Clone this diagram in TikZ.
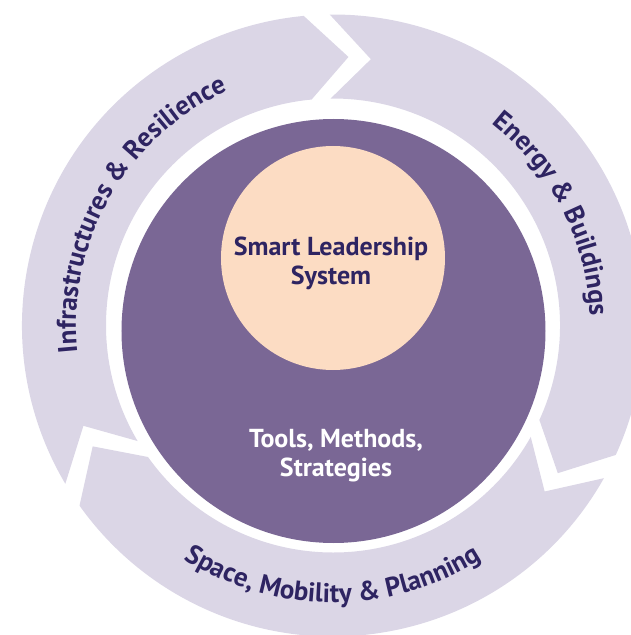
\documentclass[tikz,border=0pt]{standalone}
\usepackage{fontspec}
\setmainfont{PT Sans}
\usetikzlibrary{decorations.text}
\definecolor{ringlav}{HTML}{DBD6E6}
\definecolor{corepurple}{HTML}{7A6795}
\definecolor{peach}{HTML}{FCDCC3}
\definecolor{inktext}{HTML}{2E2462}
\newcommand{\arcfont}{\fontsize{27}{32}\selectfont\bfseries}
\begin{document}
\begin{tikzpicture}[x=1pt,y=1pt,
		arcpart/.style={fill=ringlav},
		corelabel/.style={font=\fontsize{26}{29.5}\selectfont\bfseries,align=center},
		arclabel/.style={postaction={decorate},decoration={text along path,text align=center,text color=inktext}}]
		\clip (-333,-309.5) rectangle (298,325.5);
		% three arrow pieces of the ring
		\foreach \t/\h in {210.6/95.4,90.6/-24.6,-29.4/-144.6}
		\fill[arcpart] (\t:311) arc[start angle=\t,end angle=\h,radius=311] -- ({\h-8.7}:269)
		-- (\h:227) arc[start angle=\h,end angle=\t,radius=227] -- ({\t-8.7}:269) -- cycle;
		\fill[corepurple] (0.5,-5.5) circle(212);
		\fill[peach] (0,67.5) circle(112);
		\node[corelabel,text=inktext] (sls) at (-2,62) {Smart Leadership\\System};
		\node[corelabel,text=white] (tms) at (3,-130) {Tools, Methods,\\Strategies};
		% labels along the ring
		\path[arclabel,decoration={text={|\arcfont|Infrastructures {\&} Resilience}}]
		(200:257) arc[start angle=200,end angle=100,radius=257];
		\path[arclabel,decoration={text={|\arcfont|Energy {\&} Buildings}}]
		(77:257) arc[start angle=77,end angle=-23,radius=257];
		\path[arclabel,decoration={text={|\arcfont|Space, Mobility {\&} Planning}}]
		(220:277) arc[start angle=220,end angle=320,radius=277];
	\end{tikzpicture}
\end{document}
